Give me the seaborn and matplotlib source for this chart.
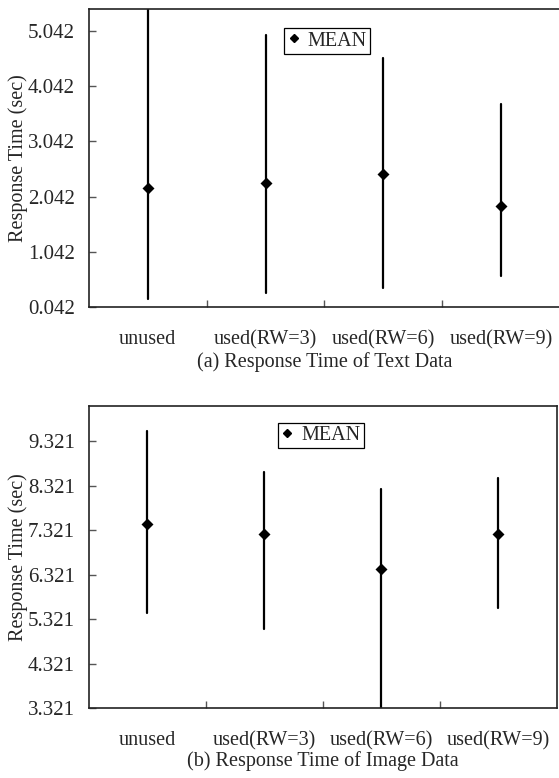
import matplotlib
matplotlib.use("Agg")
import matplotlib.pyplot as plt
import numpy as np
import pandas as pd
import seaborn as sns
from matplotlib.lines import Line2D

sns.set_style("ticks")
plt.rcParams["font.family"] = ["Liberation Serif", "DejaVu Serif"]

categories = ["unused", "used(RW=3)", "used(RW=6)", "used(RW=9)"]

# text data: low / mean / high of response time (sec)
text_low = [0.19, 0.29, 0.38, 0.60]
text_mean = [2.19, 2.29, 2.45, 1.87]
text_high = [5.80, 4.97, 4.55, 3.72]

# image data
image_low = [5.47, 5.10, 3.20, 5.57]
image_mean = [7.46, 7.23, 6.45, 7.24]
image_high = [9.54, 8.64, 8.25, 8.49]

text_ticks = [0.042, 1.042, 2.042, 3.042, 4.042, 5.042]
image_ticks = [3.321, 4.321, 5.321, 6.321, 7.321, 8.321, 9.321]


def long_form(low, mean, high):
    rows = []
    for c, a, m, b in zip(categories, low, mean, high):
        for v in (a, m, b):
            rows.append({"cat": c, "val": v})
    return pd.DataFrame(rows)


def draw(ax, low, mean, high, ticks, ylim, caption, legend_pos, cap_pad):
    df = long_form(low, mean, high)
    sns.pointplot(data=df, x="cat", y="val", ax=ax, order=categories,
                  estimator=np.median, errorbar=lambda v: (v.min(), v.max()),
                  color="black", markers="D", markersize=4.3, linestyle="none",
                  err_kws={"linewidth": 1.6})
    ax.set_xlim(-0.5, 3.5)
    ax.set_ylim(*ylim)
    ax.set_yticks(ticks)
    ax.set_yticklabels([f"{t:.3f}" for t in ticks], fontsize=15)
    ax.set_xticks([0.5, 1.5, 2.5])
    ax.set_xticklabels([])
    ax.set_xticks(range(len(categories)), minor=True)
    ax.set_xticklabels(categories, minor=True, fontsize=14.5)
    ax.tick_params(axis="x", which="minor", length=0, pad=16.5)
    ax.tick_params(axis="both", which="major", direction="in", length=5,
                   width=1, color="#555555")
    ax.tick_params(axis="y", pad=10)
    ax.set_xlabel(caption, fontsize=14.5, labelpad=cap_pad)
    ax.set_ylabel("Response Time (sec)", fontsize=14.5, labelpad=0)
    for s in ax.spines.values():
        s.set_linewidth(1.2)
        s.set_color("#222222")
    h = Line2D([], [], marker="D", color="black", linestyle="none", markersize=4.3)
    leg = ax.legend([h], ["MEAN"], loc="upper left", bbox_to_anchor=legend_pos,
                    fontsize=14.5, fancybox=False, framealpha=1,
                    edgecolor="black", handlelength=0.6, handletextpad=0.4,
                    borderpad=0.15, borderaxespad=0)
    leg.get_frame().set_linewidth(0.9)


fig = plt.figure(figsize=(5.59, 7.78), dpi=100)
ax1 = fig.add_axes([0.159, 0.6054, 0.843, 0.383])
ax2 = fig.add_axes([0.159, 0.0896, 0.8369, 0.3884])

draw(ax1, text_low, text_mean, text_high, text_ticks, (0.042, 5.44),
     "(a) Response Time of Text Data", (0.415, 0.935), 2)
draw(ax2, image_low, image_mean, image_high, image_ticks, (3.321, 10.11),
     "(b) Response Time of Image Data", (0.405, 0.943), 0.8)

fig.savefig("out.png", dpi=100)
